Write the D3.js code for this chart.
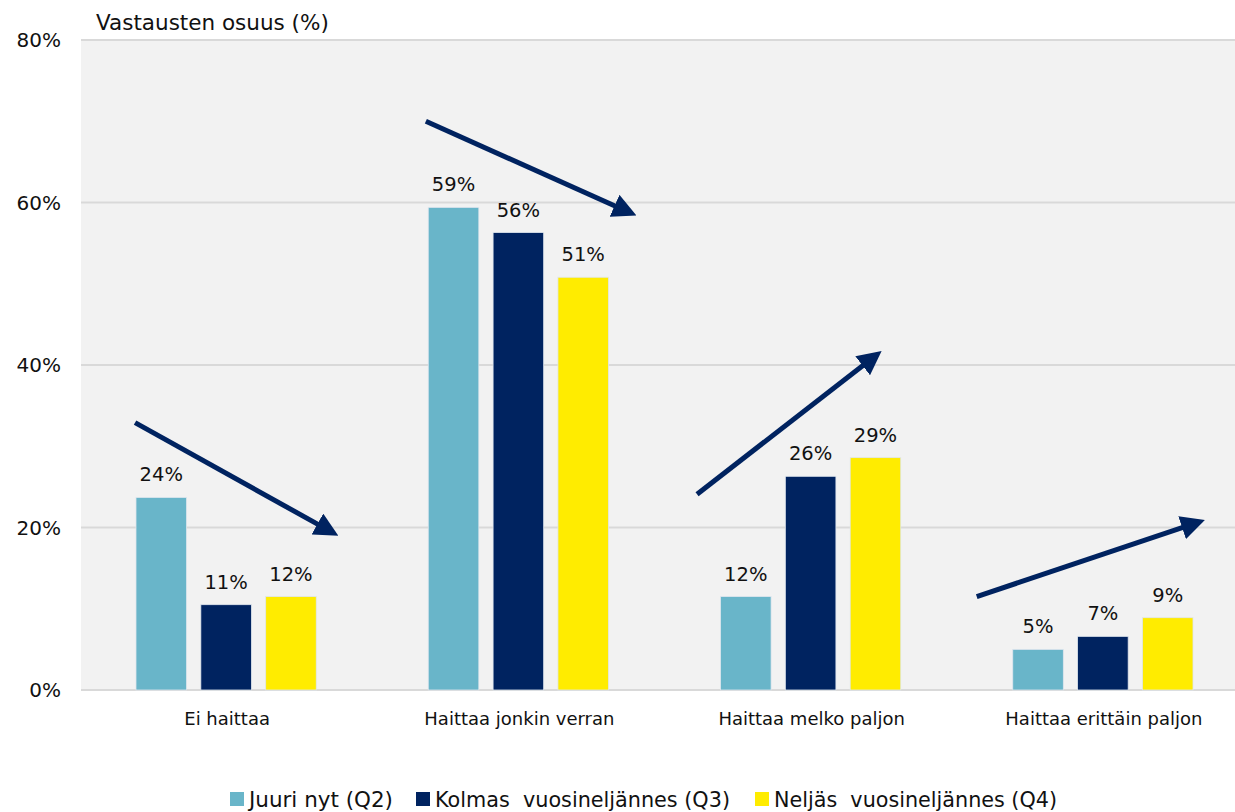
<!DOCTYPE html>
<html>
<head>
<meta charset="utf-8">
<script src="https://cdn.jsdelivr.net/npm/d3@7"></script>
<style>
  body { margin: 0; background: #fff; }
  text { font-family: "DejaVu Sans", sans-serif; fill: #111; }
</style>
</head>
<body>
<div id="chart"></div>
<script>
// categories and series
const categories = ["Ei haittaa", "Haittaa jonkin verran", "Haittaa melko paljon", "Haittaa erittäin paljon"];
const seriesNames = ["Juuri nyt (Q2)", "Kolmas  vuosineljännes (Q3)", "Neljäs  vuosineljännes (Q4)"];
const seriesColors = ["#69b5c9", "#002360", "#ffec00"];
const juuriNyt = [23.7, 59.4, 11.5, 5.0];
const kolmas = [10.5, 56.3, 26.3, 6.6];
const neljas = [11.5, 50.8, 28.6, 8.9];
const yTicks = [0, 20, 40, 60, 80];

// trend arrows: category, start/end position in band (0..1), start/end value (%)
const arrows = [
  {cat: "Ei haittaa", x0: 0.185, y0: 32.9, x1: 0.88, y1: 19.0},
  {cat: "Haittaa jonkin verran", x0: 0.18, y0: 70.0, x1: 0.90, y1: 58.4},
  {cat: "Haittaa melko paljon", x0: 0.108, y0: 24.1, x1: 0.739, y1: 41.7},
  {cat: "Haittaa erittäin paljon", x0: 0.065, y0: 11.5, x1: 0.845, y1: 20.9}
];

const W = 1235, H = 812;
const margin = {top: 40, right: -15, bottom: 122, left: 81};
const series = [juuriNyt, kolmas, neljas];

const svg = d3.select("#chart").append("svg")
  .attr("width", W).attr("height", H);

const x = d3.scaleBand().domain(categories)
  .range([margin.left, W - margin.right]).paddingInner(0).paddingOuter(0);
const xs = d3.scaleBand().domain(d3.range(3))
  .range([55, x.bandwidth() - 57]).paddingInner(0.22);
const y = d3.scaleLinear().domain([0, 80]).range([H - margin.bottom, margin.top]);

// plot background
svg.append("rect")
  .attr("x", margin.left).attr("y", margin.top)
  .attr("width", W - margin.left).attr("height", y(0) - margin.top)
  .attr("fill", "#f2f2f2");

// gridlines
svg.append("g").selectAll("line").data(yTicks).join("line")
  .attr("x1", margin.left).attr("x2", W)
  .attr("y1", d => y(d)).attr("y2", d => y(d))
  .attr("stroke", "#d9d9d9").attr("stroke-width", 2);

// y tick labels
svg.append("g").selectAll("text").data(yTicks).join("text")
  .attr("x", 61).attr("y", d => y(d))
  .attr("dy", "0.35em").attr("text-anchor", "end")
  .attr("font-size", 20)
  .text(d => d + "%");

// axis title
svg.append("text")
  .attr("x", 96).attr("y", 30)
  .attr("font-size", 21.5)
  .text("Vastausten osuus (%)");

// bars
const groups = svg.append("g").selectAll("g").data(categories).join("g")
  .attr("transform", d => "translate(" + x(d) + ",0)");

groups.selectAll("rect")
  .data((c, i) => series.map((s, k) => ({k: k, v: s[i]})))
  .join("rect")
  .attr("x", d => xs(d.k))
  .attr("y", d => y(d.v))
  .attr("width", xs.bandwidth())
  .attr("height", d => y(0) - y(d.v))
  .attr("fill", d => seriesColors[d.k])
  .attr("stroke", "#dfe6ee").attr("stroke-width", 0.8);

// data labels
groups.selectAll("text")
  .data((c, i) => series.map((s, k) => ({k: k, v: s[i]})))
  .join("text")
  .attr("x", d => xs(d.k) + xs.bandwidth() / 2)
  .attr("y", d => y(d.v) - 16)
  .attr("text-anchor", "middle")
  .attr("font-size", 19.5)
  .text(d => Math.round(d.v) + "%");

// category labels
svg.append("g").selectAll("text").data(categories).join("text")
  .attr("x", d => x(d) + x.bandwidth() / 2)
  .attr("y", 725)
  .attr("text-anchor", "middle")
  .attr("font-size", 18)
  .text(d => d);

// arrows
svg.append("defs").append("marker")
  .attr("id", "head")
  .attr("viewBox", "0 0 10 10")
  .attr("refX", 2).attr("refY", 5)
  .attr("markerWidth", 4.8).attr("markerHeight", 4.8)
  .attr("orient", "auto")
  .append("path").attr("d", "M0,0 L10,5 L0,10 Z").attr("fill", "#002360");

svg.append("g").selectAll("line").data(arrows).join("line")
  .attr("x1", d => x(d.cat) + d.x0 * x.bandwidth())
  .attr("y1", d => y(d.y0))
  .attr("x2", d => x(d.cat) + d.x1 * x.bandwidth())
  .attr("y2", d => y(d.y1))
  .attr("stroke", "#002360").attr("stroke-width", 5)
  .attr("marker-end", "url(#head)")
  .each(function(d) {
    // shorten the line so the arrowhead tip ends at the end point
    const el = d3.select(this);
    const x1 = +el.attr("x1"), y1 = +el.attr("y1"), x2 = +el.attr("x2"), y2 = +el.attr("y2");
    const len = Math.hypot(x2 - x1, y2 - y1), cut = 19;
    el.attr("x2", x2 - (x2 - x1) / len * cut).attr("y2", y2 - (y2 - y1) / len * cut);
  });

// legend (narrow font in the original, so squeeze the text)
const legendX = [230, 416, 755];
const legendW = [144, 295, 283];
const legend = svg.append("g").selectAll("g").data(seriesNames).join("g")
  .attr("transform", (d, i) => "translate(" + legendX[i] + ",792)");
legend.append("rect").attr("width", 14).attr("height", 14)
  .attr("fill", (d, i) => seriesColors[i]);
legend.append("text")
  .attr("x", 19).attr("y", 7).attr("dy", "0.36em")
  .attr("font-size", 22)
  .attr("textLength", (d, i) => legendW[i])
  .attr("lengthAdjust", "spacingAndGlyphs")
  .style("white-space", "pre")
  .text(d => d);
</script>
</body>
</html>
